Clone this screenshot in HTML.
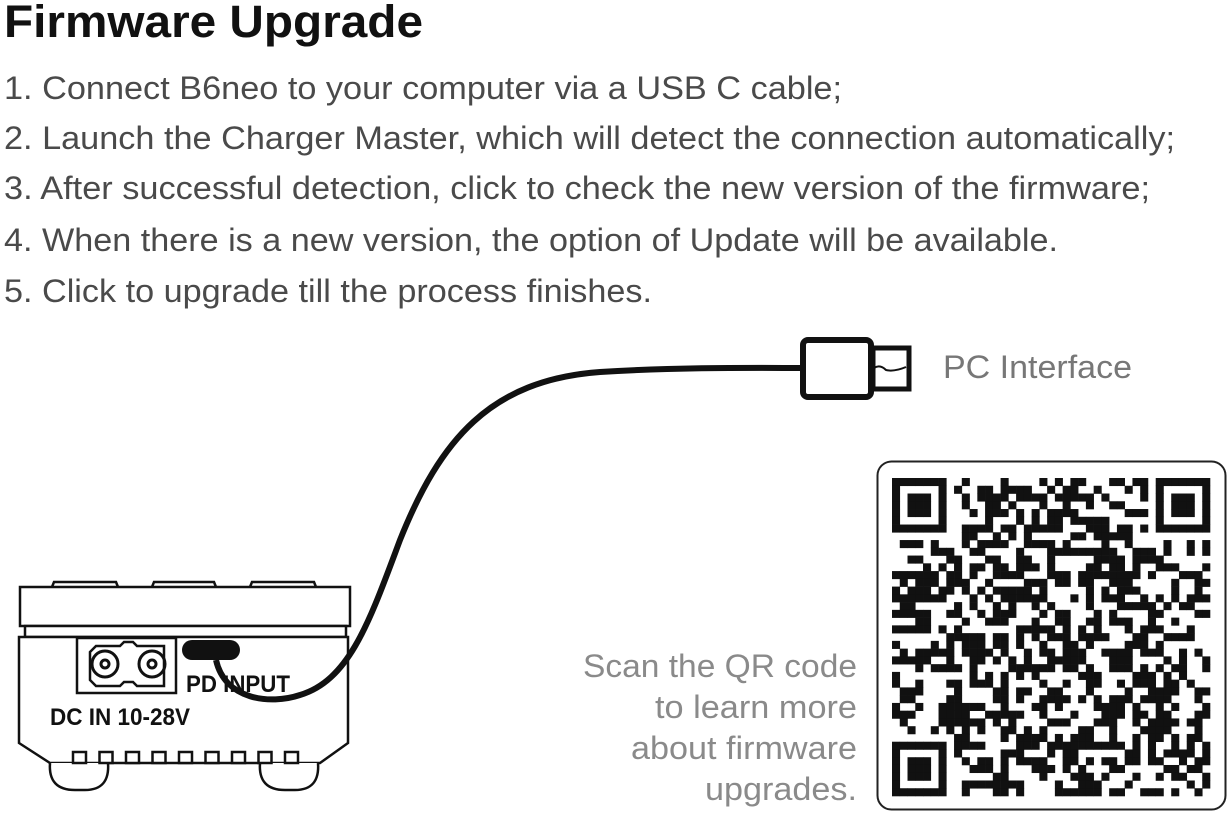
<!DOCTYPE html>
<html><head><meta charset="utf-8"><style>
body{margin:0;width:1231px;height:813px;background:#fff;position:relative;overflow:hidden;font-family:"Liberation Sans",sans-serif}
</style></head><body>
<svg width="1231" height="813" style="position:absolute;left:0;top:0" font-family="Liberation Sans">
<text x="4" y="37" font-size="45" font-weight="bold" fill="#111" textLength="419" lengthAdjust="spacingAndGlyphs">Firmware Upgrade</text>
<g font-size="32" fill="#4a4a4a">
<text x="4" y="99" textLength="838" lengthAdjust="spacingAndGlyphs">1. Connect B6neo to your computer via a USB C cable;</text>
<text x="4" y="149" textLength="1171" lengthAdjust="spacingAndGlyphs">2. Launch the Charger Master, which will detect the connection automatically;</text>
<text x="4" y="199" textLength="1146" lengthAdjust="spacingAndGlyphs">3. After successful detection, click to check the new version of the firmware;</text>
<text x="4" y="251" textLength="1054" lengthAdjust="spacingAndGlyphs">4. When there is a new version, the option of Update will be available.</text>
<text x="4" y="302" textLength="648" lengthAdjust="spacingAndGlyphs">5. Click to upgrade till the process finishes.</text>
</g>
<text x="943" y="378" font-size="32" fill="#777" textLength="189" lengthAdjust="spacingAndGlyphs">PC Interface</text>
<g font-size="32" fill="#8a8a8a">
<text x="583" y="677" textLength="274" lengthAdjust="spacingAndGlyphs">Scan the QR code</text>
<text x="655" y="718" textLength="202" lengthAdjust="spacingAndGlyphs">to learn more</text>
<text x="631" y="759" textLength="226" lengthAdjust="spacingAndGlyphs">about firmware</text>
<text x="705" y="800" textLength="152" lengthAdjust="spacingAndGlyphs">upgrades.</text>
</g>
<g fill="#fff" stroke="#111" stroke-width="2.5">
<path d="M52 587 L54 582 H116 L118 587 M152 587 L154 582 H214 L216 587 M250 587 L252 582 H314 L316 587"/>
<rect x="20" y="587" width="330" height="39"/>
<rect x="25" y="626" width="321" height="11"/>
<path d="M19 637 H348 V743 L320 763 H50 L19 743 Z"/>
<path d="M50 763 Q48 790 75 790 H85 Q110 790 108 763"/>
<path d="M260 763 Q258 790 285 790 H295 Q320 790 318 763"/>
<rect x="77" y="638" width="99" height="55"/>
<path d="M90 652 L96 646 H120 L124 642 H133 L137 646 H164 V686 H137 L133 682 H124 L120 686 H96 L90 680 Z"/>
</g>
<g fill="none" stroke="#111" stroke-width="3">
<circle cx="105" cy="664" r="13"/><circle cx="105" cy="664" r="4"/>
<circle cx="152" cy="664" r="13"/><circle cx="152" cy="664" r="4"/>
</g>
<g fill="#fff" stroke="#111" stroke-width="2.5" id="vents"></g>
<rect x="182" y="640" width="58" height="20" rx="10" fill="#111"/>
<text x="186" y="692" font-weight="bold" font-size="24" fill="#111" textLength="104" lengthAdjust="spacingAndGlyphs">PD INPUT</text>
<text x="50" y="725" font-weight="bold" font-size="24" fill="#111" textLength="140" lengthAdjust="spacingAndGlyphs">DC IN 10-28V</text>
<path d="M216 660 C225 700 270 705 300 695 C350 680 370 620 400 540 C440 440 490 380 600 372 C680 367 760 368 802 368" fill="none" stroke="#111" stroke-width="6"/>
<rect x="803" y="340" width="68" height="57" rx="5" fill="#fff" stroke="#111" stroke-width="6"/>
<rect x="873" y="348" width="36" height="41" fill="#fff" stroke="#111" stroke-width="5"/>
<path d="M874 368 Q880 364 886 370 Q894 372 906 367" fill="none" stroke="#111" stroke-width="2"/>
<rect x="877.5" y="461.5" width="348" height="348" rx="14" fill="#fff" stroke="#222" stroke-width="2"/>
<g id="qr" fill="#111"></g>
</svg>
<script>
var v=document.getElementById('vents'),h='';
for(var i=0;i<9;i++){h+='<rect x="'+(73+i*26.5)+'" y="752" width="13" height="11"/>';}
v.innerHTML=h;
var N=41,m=318/N,x0=892,y0=478,q='',s=12345;
function r(){s=(s*1103515245+12345)%2147483648;return s/2147483648;}
function fin(a,b,i,j){var di=i-a,dj=j-b;if(di<0||dj<0||di>7||dj>7)return -1;if(di==7||dj==7)return 0;
 if(di==0||dj==0||di==6||dj==6)return 1;if(di==1||dj==1||di==5||dj==5)return 0;return 1;}
for(var i=0;i<N;i++)for(var j=0;j<N;j++){
 var f=fin(0,0,i,j);if(f<0)f=fin(0,N-7,i,j>=N-7?j:-99);if(f<0&&j>=N-8&&i<8)f=(j==N-8||i==7)?0:fin(0,N-7,i,j);
 if(f<0&&i>=N-8&&j<8)f=(i==N-8||j==7)?0:fin(N-7,0,i,j);
 if(f<0)f=r()<0.5?1:0;
 if(f==1)q+='<rect x="'+(x0+j*m).toFixed(2)+'" y="'+(y0+i*m).toFixed(2)+'" width="'+(m+0.3).toFixed(2)+'" height="'+(m+0.3).toFixed(2)+'"/>';}
document.getElementById('qr').innerHTML=q;
</script>
</body></html>
